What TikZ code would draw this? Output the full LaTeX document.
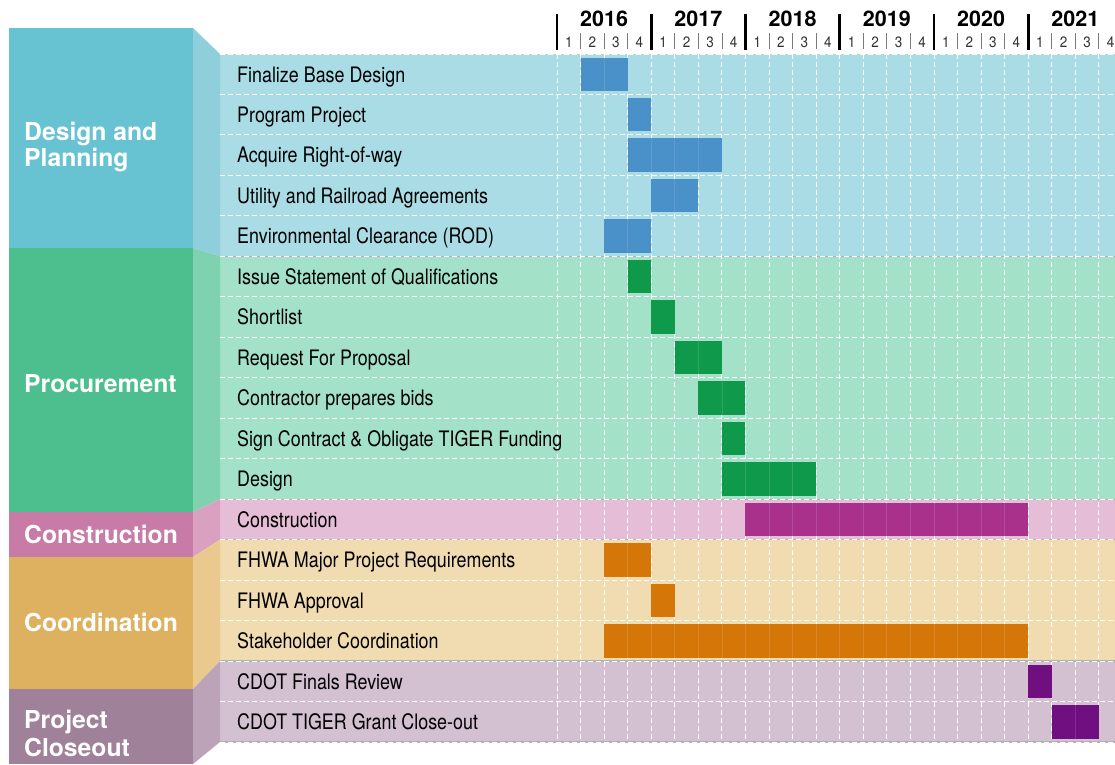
\documentclass[tikz,border=0pt]{standalone}
\usepackage{fontspec}
\setmainfont{TeX Gyre Heros}
\newfontfamily\condfont[FakeStretch=0.84]{TeX Gyre Heros}
\newfontfamily\qfont[FakeStretch=0.9]{TeX Gyre Heros}

% phase colours: side panel, bevel, row band, bar
\definecolor{dpPanel}{HTML}{67C2D2}
\definecolor{dpBevel}{HTML}{8FCFDB}
\definecolor{dpRow}{HTML}{AADCE5}
\definecolor{dpBar}{HTML}{4A90C9}
\definecolor{prPanel}{HTML}{4DBF8E}
\definecolor{prBevel}{HTML}{7FD2AF}
\definecolor{prRow}{HTML}{A3E1C8}
\definecolor{prBar}{HTML}{0F9A4B}
\definecolor{csPanel}{HTML}{C77BA6}
\definecolor{csBevel}{HTML}{D9A0C0}
\definecolor{csRow}{HTML}{E5BDD6}
\definecolor{csBar}{HTML}{A9318C}
\definecolor{coPanel}{HTML}{DEB160}
\definecolor{coBevel}{HTML}{EAC98E}
\definecolor{coRow}{HTML}{F1DBB1}
\definecolor{coBar}{HTML}{D57608}
\definecolor{clPanel}{HTML}{A0819A}
\definecolor{clBevel}{HTML}{BBA4B7}
\definecolor{clRow}{HTML}{D3C0D1}
\definecolor{clBar}{HTML}{6F0F80}
\definecolor{sepGray}{HTML}{7A7A7A}

% quarter boundary i (0 = start of 2016)
\newcommand{\qx}[1]{(557+#1*23.56)}
% row boundary k (0 = top of first task row)
\newcommand{\ry}[1]{(54+#1*40.47)}

\begin{document}
\begin{tikzpicture}[x=1pt,y=-1pt,
  tasklabel/.style={anchor=base west,inner sep=0pt,text=black,
    font=\condfont\fontsize{21.3}{21.3}\selectfont},
  phaselabel/.style={anchor=base west,inner sep=0pt,text=white,
    font=\bfseries\fontsize{24.7}{26}\selectfont},
  yearlabel/.style={anchor=base,inner sep=0pt,text=black,
    font=\bfseries\fontsize{21.5}{21.5}\selectfont},
  qlabel/.style={anchor=base,inner sep=0pt,text=black!80,
    font=\qfont\fontsize{15}{15}\selectfont},
  gridline/.style={white,line width=0.9pt,dash pattern=on 4.5pt off 3.5pt},
  barline/.style={white,opacity=0.12,line width=0.8pt},
  phaseedge/.style={black!30,line width=1.2pt}]

\useasboundingbox (0,0) rectangle (1115,764);
\fill[white] (0,0) rectangle (1115,764);

% row bands of each phase
\fill[dpRow] (220,{\ry{0}}) rectangle (1115,{\ry{5}});
\fill[prRow] (220,{\ry{5}}) rectangle (1115,{\ry{11}});
\fill[csRow] (220,{\ry{11}}) rectangle (1115,{\ry{12}});
\fill[coRow] (220,{\ry{12}}) rectangle (1115,{\ry{15}});
\fill[clRow] (220,{\ry{15}}) rectangle (1115,{\ry{17}});

% bevels joining the side panels to the row bands
\fill[dpBevel] (193,28) -- (220,{\ry{0}}) -- (220,{\ry{5}}) -- (193,248) -- cycle;
\fill[prBevel] (193,248) -- (220,{\ry{5}}) -- (220,{\ry{11}}) -- (193,512) -- cycle;
\fill[csBevel] (193,512) -- (220,{\ry{11}}) -- (220,{\ry{12}}) -- (193,557) -- cycle;
\fill[coBevel] (193,557) -- (220,{\ry{12}}) -- (220,{\ry{15}}) -- (193,689) -- cycle;
\fill[clBevel] (193,689) -- (220,{\ry{15}}) -- (220,{\ry{17}}) -- (193,764) -- cycle;

% side panels
\fill[dpPanel] (9,28) rectangle (193,248);
\fill[prPanel] (9,248) rectangle (193,512);
\fill[csPanel] (9,512) rectangle (193,557);
\fill[coPanel] (9,557) rectangle (193,689);
\fill[clPanel] (9,689) rectangle (193,764);

% phase borders across the rows
\foreach \k in {5,11,12,15,17}
  \draw[phaseedge] (220,{\ry{\k}}) -- (1115,{\ry{\k}});

% dashed grid: row and quarter boundaries
\foreach \k in {0,...,17}
  \draw[gridline] (220,{\ry{\k}}) -- (1115,{\ry{\k}});
\foreach \i in {0,...,24}
  \draw[gridline] ({\qx{\i}},{\ry{0}}) -- ({\qx{\i}},{\ry{17}});

% tasks: row / label / first quarter / end quarter / bar colour
\foreach \r/\txt/\s/\e/\c in {
  0/Finalize Base Design/1/3/dpBar,
  1/Program Project/3/4/dpBar,
  2/Acquire Right-of-way/3/7/dpBar,
  3/Utility and Railroad Agreements/4/6/dpBar,
  4/Environmental Clearance (ROD)/2/4/dpBar,
  5/Issue Statement of Qualifications/3/4/prBar,
  6/Shortlist/4/5/prBar,
  7/Request For Proposal/5/7/prBar,
  8/Contractor prepares bids/6/8/prBar,
  9/Sign Contract \& Obligate TIGER Funding/7/8/prBar,
  10/Design/7/11/prBar,
  11/Construction/8/20/csBar,
  12/FHWA Major Project Requirements/2/4/coBar,
  13/FHWA Approval/4/5/coBar,
  14/Stakeholder Coordination/2/20/coBar,
  15/CDOT Finals Review/20/21/clBar,
  16/CDOT TIGER Grant Close-out/21/23/clBar}{
  \fill[\c] ({\qx{\s}},{\ry{\r}+3.5}) rectangle ({\qx{\e}},{\ry{(\r+1)}-3.5});
  % faint quarter lines showing through the bar
  \pgfmathtruncatemacro{\inner}{\e-\s-1}
  \ifnum\inner>0
    \foreach \j in {1,...,\inner}
      \draw[barline] ({\qx{(\s+\j)}},{\ry{\r}+3.5}) -- ({\qx{(\s+\j)}},{\ry{(\r+1)}-3.5});
  \fi
  \node[tasklabel] (task\r) at (237,{\ry{(\r+0.5)}+7.8}) {\txt};
}

% phase names
\node[phaselabel] (dpNameA) at (24,140) {Design and};
\node[phaselabel] (dpNameB) at (24,166) {Planning};
\node[phaselabel] (prName) at (24,392) {Procurement};
\node[phaselabel] (csName) at (24,543) {Construction};
\node[phaselabel] (coName) at (24,631) {Coordination};
\node[phaselabel] (clNameA) at (24,728) {Project};
\node[phaselabel] (clNameB) at (24,756) {Closeout};

% timeline header: years, quarters and separators
\foreach \y [count=\n from 0] in {2016,2017,2018,2019,2020,2021}{
  \node[yearlabel] (year\y) at ({\qx{(4*\n+2)}},26.7) {\y};
  \draw[black,line width=2.6pt] ({\qx{(4*\n)}},14) -- ({\qx{(4*\n)}},50);
  \foreach \q in {1,2,3,4}{
    \node[qlabel] (q\y-\q) at ({\qx{(4*\n+\q-0.5)}},47) {\q};
  }
  \foreach \q in {1,2,3}{
    \draw[sepGray,line width=0.8pt] ({\qx{(4*\n+\q)}},33) -- ({\qx{(4*\n+\q)}},49);
  }
}
\end{tikzpicture}
\end{document}
